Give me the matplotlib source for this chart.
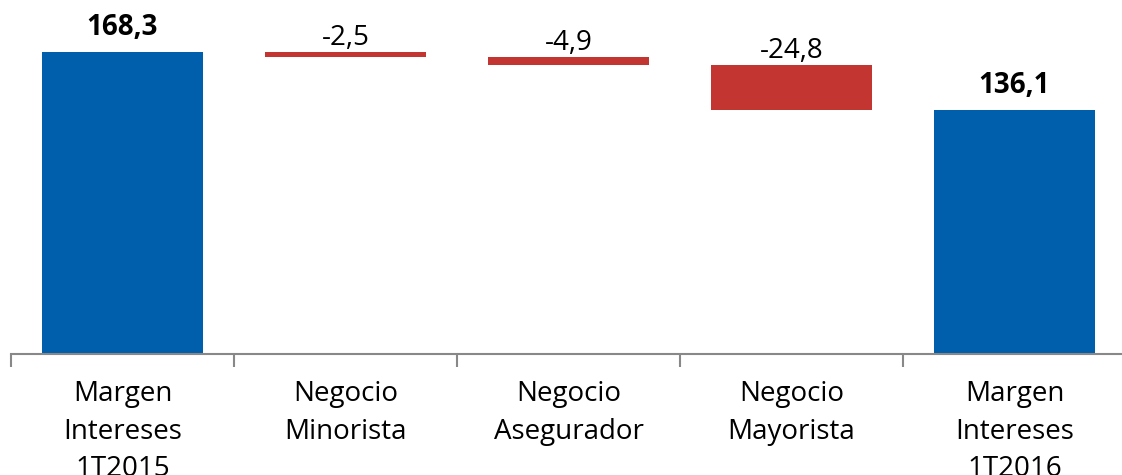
import matplotlib
matplotlib.use("Agg")
import matplotlib.pyplot as plt

categories = ["Margen\nIntereses\n1T2015", "Negocio\nMinorista", "Negocio\nAsegurador",
              "Negocio\nMayorista", "Margen\nIntereses\n1T2016"]
values = [168.3, -2.5, -4.9, -24.8, 136.1]
is_total = [True, False, False, False, True]
labels = ["168,3", "-2,5", "-4,9", "-24,8", "136,1"]

blue = "#005FAD"
red = "#C23530"

plt.rcParams['font.family'] = ['Open Sans', 'DejaVu Sans']

fig = plt.figure(figsize=(11.22, 4.75), dpi=100)
ax = fig.add_axes([11 / 1122, 121 / 475, 1115 / 1122, 354 / 475])

running = 0.0
for i, (v, tot) in enumerate(zip(values, is_total)):
    if tot:
        bottom, height = 0, v
        running = v
        top = v
        color = blue
    else:
        bottom, height = running + v, -v
        top = running
        running = running + v
        color = red
    ax.bar(i, height, bottom=bottom, width=0.72, color=color)
    ax.annotate(labels[i], (i, top), xytext=(0, 7 if tot else 0),
                textcoords="offset points", ha="center", va="bottom",
                fontsize=20, fontweight="bold" if tot else "normal", color="black")

ax.set_xlim(-0.5, 4.5)
ax.set_ylim(0, 197.4)
ax.set_xticks([i + 0.5 for i in range(-1, 5)], minor=False)
ax.set_xticklabels([])
ax.set_xticks(range(5), minor=True)
ax.set_xticklabels(categories, minor=True, fontsize=20, linespacing=1.45)
ax.tick_params(axis="x", which="major", length=9, width=1.5, color="#888888", direction="out")
ax.tick_params(axis="x", which="minor", length=0, pad=19)
ax.set_yticks([])
for s in ["top", "right", "left"]:
    ax.spines[s].set_visible(False)
ax.spines["bottom"].set_color("#888888")
ax.spines["bottom"].set_linewidth(1.5)

fig.savefig("out.png", dpi=100)
